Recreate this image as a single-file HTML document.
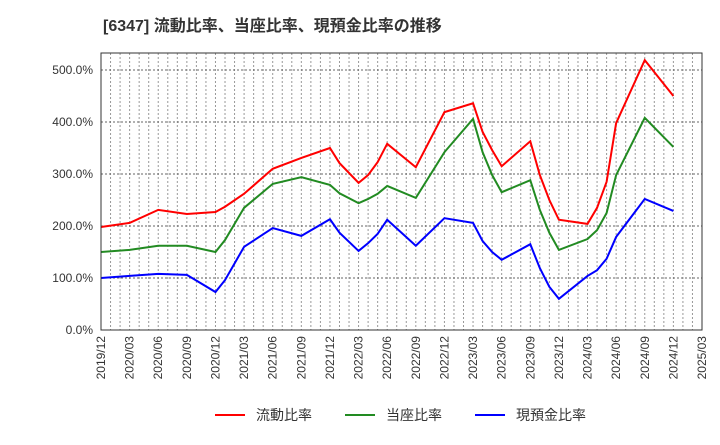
<!DOCTYPE html>
<html><head><meta charset="utf-8"><style>
body{margin:0;background:#fff;font-family:"Liberation Sans","Noto Sans CJK JP",sans-serif}
svg text{font-family:"Liberation Sans","Noto Sans CJK JP",sans-serif}
</style></head><body>
<svg id="c" width="720" height="440" xmlns="http://www.w3.org/2000/svg">
<text x="103" y="31" font-size="16" font-weight="bold" fill="#333">[6347]  流動比率、当座比率、現預金比率の推移</text>
<g id="grid"></g><g id="axes"></g><g id="series"></g>
<rect x="101" y="53" width="601" height="277" fill="none" stroke="#333" stroke-width="1"/>
<g id="legend"></g>
</svg>
<script>
const months=[0,3,6,9,12,13,15,18,21,24,25,27,28,29,30,33,36,39,40,41,42,45,46,47,48,51,52,53,54,57,60];
const currentRatio=[198,206,231,223,227,237,262,310,331,350,321,283,298,323,358,313,419,436,381,346,315,363,298,250,212,204,235,285,398,519,450];
const quickRatio=[150,154,162,162,150,173,235,281,294,279,263,244,252,262,277,254,342,406,342,298,265,288,231,187,154,175,192,225,298,408,352];
const cashRatio=[100,104,108,106,73,96,160,196,181,213,187,152,167,185,212,162,215,206,171,150,135,165,119,83,60,104,115,137,179,252,229];
const yTicks=[0,100,200,300,400,500];
const xTickLabels=["2019/12","2020/03","2020/06","2020/09","2020/12","2021/03","2021/06","2021/09","2021/12","2022/03","2022/06","2022/09","2022/12","2023/03","2023/06","2023/09","2023/12","2024/03","2024/06","2024/09","2024/12","2025/03"];
const seriesNames=["流動比率","当座比率","現預金比率"];
const NS="http://www.w3.org/2000/svg";
const X0=101,X1=702,Y0=330,totalMonths=63;
const xs=m=>X0+(X1-X0)*m/totalMonths;
const ys=v=>Y0-v*0.52;
function mk(t,a,p){const e=document.createElementNS(NS,t);for(const k in a)e.setAttribute(k,a[k]);p.appendChild(e);return e;}
const grid=document.getElementById('grid'),axes=document.getElementById('axes'),ser=document.getElementById('series'),leg=document.getElementById('legend');
for(let m=1;m<totalMonths;m++){
 const l=mk('line',{x1:xs(m),x2:xs(m),y1:53,y2:330,stroke:'#999','stroke-width':1,'stroke-dasharray':'2,2'},grid);
 
 
}
yTicks.forEach(v=>{
 if(v>0){const l=mk('line',{x1:X0,x2:X1,y1:ys(v),y2:ys(v),stroke:'#666','stroke-width':1,'stroke-dasharray':'2,2'},grid);
 
 }
 const t=mk('text',{x:93,y:ys(v)+4,'text-anchor':'end','font-size':12,fill:'#333'},axes);
 t.textContent=v.toFixed(1)+'%';
 
 
});
xTickLabels.forEach((s,i)=>{
 const x=xs(i*3);
 const t=mk('text',{x:0,y:0,'text-anchor':'end','font-size':12,fill:'#333',transform:`translate(${x+4},336) rotate(-90)`},axes);
 t.textContent=s;
 
 
});
const data=[currentRatio,quickRatio,cashRatio],cols=['#ff0000','#228b22','#0000ff'],names=['current-ratio-line','quick-ratio-line','cash-ratio-line'];
data.forEach((d,i)=>{
 const p=mk('polyline',{points:d.map((v,j)=>xs(months[j])+','+ys(v)).join(' '),fill:'none',stroke:cols[i],'stroke-width':2},ser);
 
 
});
const lx=[215,345,475];
seriesNames.forEach((n,i)=>{
 const g=mk('g',{},leg);
 
 
 mk('line',{x1:lx[i],x2:lx[i]+30,y1:415,y2:415,stroke:cols[i],'stroke-width':2},g);
 const t=mk('text',{x:lx[i]+41,y:420,'font-size':14,fill:'#333'},g);
 t.textContent=n;
});
</script>
</body></html>
